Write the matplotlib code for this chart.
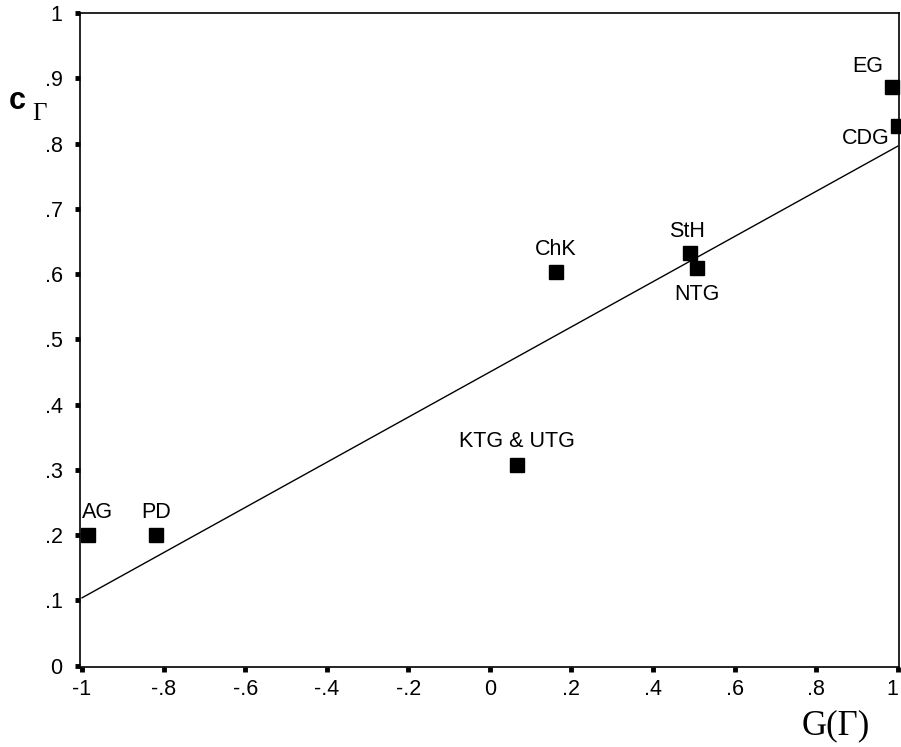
import matplotlib.pyplot as plt

# values
names = ["AG", "PD", "KTG & UTG", "ChK", "StH", "NTG", "EG", "CDG"]
g_vals = [-0.985, -0.818, 0.067, 0.161, 0.49, 0.507, 0.985, 1.0]
c_vals = [0.2, 0.2, 0.308, 0.603, 0.633, 0.61, 0.886, 0.827]

# fitted line (ends read at x=-1 and x=1)
line_x = [-1.0, 1.0]
line_y = [0.104, 0.796]

x_ticks = [-1, -0.8, -0.6, -0.4, -0.2, 0, 0.2, 0.4, 0.6, 0.8, 1]
x_labels = ["-1", "-.8", "-.6", "-.4", "-.2", "0", ".2", ".4", ".6", ".8", "1"]
y_ticks = [0, 0.1, 0.2, 0.3, 0.4, 0.5, 0.6, 0.7, 0.8, 0.9, 1]
y_labels = ["0", ".1", ".2", ".3", ".4", ".5", ".6", ".7", ".8", ".9", "1"]

# label offsets in pixels (to text centre) and alignment
label_pos = {
    "AG": (-6, 23, "left"),
    "PD": (0, 23, "center"),
    "KTG & UTG": (0, 23, "center"),
    "ChK": (0, 23, "center"),
    "StH": (-3, 21, "center"),
    "NTG": (0, -27, "center"),
    "EG": (-8, 21, "right"),
    "CDG": (-8, -13, "right"),
}

plt.rcParams['font.family'] = ['Liberation Sans', 'DejaVu Sans']

fig = plt.figure(figsize=(9.01, 7.47), dpi=100)
ax = fig.add_axes([80 / 901, (747 - 667) / 747, 819 / 901, 654 / 747])

ax.plot(line_x, line_y, color="black", linewidth=1.0)
ax.plot(g_vals, c_vals, linestyle="none", marker="s", markersize=10,
        color="black", clip_on=False, zorder=3)

for n, gx, cy in zip(names, g_vals, c_vals):
    dx, dy, ha = label_pos[n]
    ax.annotate(n, (gx, cy), xytext=(dx, dy), textcoords="offset pixels",
                ha=ha, va="center", fontsize=15.5)

ax.set_xlim(-1.005, 1.003)
ax.set_ylim(-0.002, 1.0)
ax.set_xticks(x_ticks)
ax.set_xticklabels(x_labels)
ax.set_yticks(y_ticks)
ax.set_yticklabels(y_labels)
ax.tick_params(axis="both", direction="out", length=3.5, width=3.5,
               labelsize=15.5)
ax.tick_params(axis="x", pad=5)
ax.tick_params(axis="y", pad=9)
# last x label sits at the figure edge, keep it inside
ax.get_xticklabels()[-1].set_ha("right")
for s in ax.spines.values():
    s.set_linewidth(1.2)

fig.text(836 / 901, 1 - 726 / 747, "G(\u0393)", family="Liberation Serif",
         fontsize=25, ha="center", va="center")
fig.text(17 / 901, 1 - 101 / 747, "c", fontsize=22, fontweight="bold",
         ha="center", va="center")
fig.text(39 / 901, 1 - 114 / 747, "\u0393", family="Liberation Serif",
         fontsize=18, ha="center", va="center")

fig.savefig("out.png", dpi=100)
